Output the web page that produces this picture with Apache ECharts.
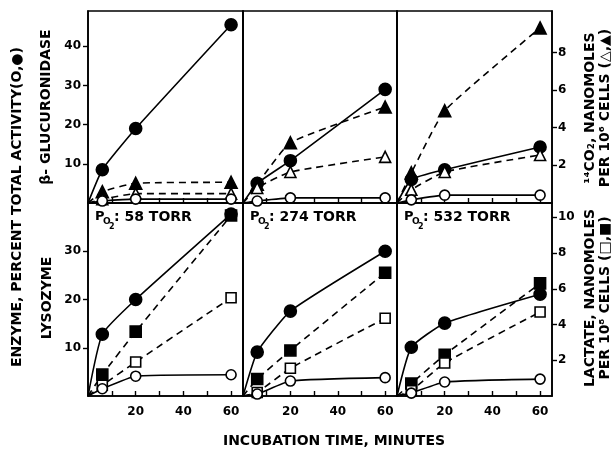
<!DOCTYPE html>
<html><head><meta charset="utf-8">
<script src="https://cdn.jsdelivr.net/npm/echarts@6/dist/echarts.min.js"></script>
<style>html,body{margin:0;padding:0;background:#fff}#c{width:615px;height:450px}</style>
</head><body><div id="c"></div>
<script>
// incubation times (minutes)
const times = [6, 20, 60];
const po2Labels = ['58', '274', '532'];
const xTicks = [10, 20, 30, 40, 50, 60];
const xLabels = [20, 40, 60];
const leftTicksTop = [10, 20, 30, 40];
const leftTicksBottom = [10, 20, 30];
const rightTicksTop = [2, 4, 6, 8];
const rightTicksBottom = [2, 4, 6, 8, 10];
// beta-glucuronidase, % total activity (open / filled circles), per panel
const glucOpen = [[0.5, 1.0, 1.0], [0.5, 1.3, 1.3], [0.8, 2.0, 2.0]];
const glucFilled = [[8.5, 19, 45.5], [5.0, 10.8, 29], [6.0, 8.5, 14.3]];
// 14CO2, nmol per 10^6 cells (open / filled triangles)
const co2Open = [[0.2, 0.5, 0.5], [0.8, 1.65, 2.45], [0.7, 1.65, 2.55]];
const co2Filled = [[0.6, 1.05, 1.1], [1.0, 3.2, 5.1], [1.6, 4.9, 9.3]];
// lysozyme, % total activity (open / filled circles)
const lysoOpen = [[1.5, 4.1, 4.4], [0.4, 3.1, 3.8], [0.6, 2.9, 3.5]];
const lysoFilled = [[12.8, 20, 37.7], [9.1, 17.6, 30], [10.1, 15.1, 21.1]];
// lactate, nmol per 10^8 cells (open / filled squares)
const lacOpen = [[0.6, 1.9, 5.5], [0.2, 1.55, 4.35], [0.3, 1.85, 4.7]];
const lacFilled = [[1.2, 3.6, 10.1], [0.95, 2.55, 6.9], [0.7, 2.3, 6.3]];

const FONT = '"DejaVu Sans", sans-serif';
const colLeft = [88, 243, 397];
const colWidth = [155, 154, 155];
const rowTop = [11, 203];
const rowHeight = [192, 193];
const leftMax = [49, 40];
const rightMax = [10.2, 10.8];

const grids = [], xAxes = [], yAxes = [], series = [];
function mkData(vals) {
  return [{ value: [0, 0], symbol: 'none' }].concat(times.map((t, k) => [t, vals[k]]));
}
function addSeries(gi, yi, vals, dashed, symbol, filled, size) {
  series.push({
    type: 'line', xAxisIndex: gi, yAxisIndex: yi, data: mkData(vals),
    smooth: 0.15,
    symbol: symbol, symbolSize: size, showAllSymbol: true,
    lineStyle: { color: '#000', width: 1.6, type: dashed ? [7, 5] : 'solid' },
    itemStyle: { color: filled ? '#000' : '#fff', borderColor: '#000', borderWidth: 1.6 },
    z: filled ? 3 : 4, animation: false
  });
}
for (let r = 0; r < 2; r++) {
  for (let c = 0; c < 3; c++) {
    const gi = r * 3 + c;
    grids.push({ left: colLeft[c], top: rowTop[r], width: colWidth[c], height: rowHeight[r],
      show: true, borderColor: '#000', borderWidth: 1.6, backgroundColor: 'transparent' });
    xAxes.push({ type: 'value', gridIndex: gi, min: 0, max: 65,
      axisLine: { show: true, lineStyle: { color: '#000', width: 1.6 } },
      axisTick: { show: true, inside: true, length: 5, customValues: xTicks, lineStyle: { color: '#000', width: 1.4 } },
      axisLabel: { show: r === 1, customValues: xLabels, margin: 10, color: '#000', fontFamily: FONT, fontWeight: 'bold', fontSize: 12 },
      splitLine: { show: false } });
    yAxes.push({ type: 'value', gridIndex: gi, min: 0, max: leftMax[r], position: 'left',
      axisLine: { show: true, lineStyle: { color: '#000', width: 1.6 } },
      axisTick: { show: c === 0, inside: false, length: 5, customValues: r === 0 ? leftTicksTop : leftTicksBottom, lineStyle: { color: '#000', width: 1.4 } },
      axisLabel: { show: c === 0, customValues: r === 0 ? leftTicksTop : leftTicksBottom, margin: 7, color: '#000', fontFamily: FONT, fontWeight: 'bold', fontSize: 12 },
      splitLine: { show: false } });
    yAxes.push({ type: 'value', gridIndex: gi, min: 0, max: rightMax[r], position: 'right',
      axisLine: { show: c === 2, lineStyle: { color: '#000', width: 1.6 } },
      axisTick: { show: c === 2, inside: false, length: 5, customValues: r === 0 ? rightTicksTop : rightTicksBottom, lineStyle: { color: '#000', width: 1.4 } },
      axisLabel: { show: c === 2, customValues: r === 0 ? rightTicksTop : rightTicksBottom, margin: 6, color: '#000', fontFamily: FONT, fontWeight: 'bold', fontSize: 12 },
      splitLine: { show: false } });
    const yl = gi * 2, yr = gi * 2 + 1;
    if (r === 0) {
      addSeries(gi, yr, co2Open[c], true, 'triangle', false, 11);
      addSeries(gi, yr, co2Filled[c], true, 'triangle', true, 12);
      addSeries(gi, yl, glucOpen[c], false, 'circle', false, 10);
      addSeries(gi, yl, glucFilled[c], false, 'circle', true, 12);
    } else {
      addSeries(gi, yr, lacOpen[c], true, 'rect', false, 10);
      addSeries(gi, yr, lacFilled[c], true, 'rect', true, 11);
      addSeries(gi, yl, lysoOpen[c], false, 'circle', false, 10);
      addSeries(gi, yl, lysoFilled[c], false, 'circle', true, 12);
    }
  }
}

function txt(text, x, y, size, rot, align) {
  return { type: 'text', x: x, y: y, rotation: rot || 0, silent: true, z: 100,
    style: { text: text, font: 'bold ' + size + 'px ' + FONT, fill: '#000',
      textAlign: align || 'center', textVerticalAlign: 'middle', align: align || 'center', verticalAlign: 'middle' } };
}
const R = Math.PI / 2;
const graphics = [
  txt('ENZYME, PERCENT TOTAL ACTIVITY(O,●)', 17, 207, 14, R),
  txt('β- GLUCURONIDASE', 46, 107, 14, R),
  txt('LYSOZYME', 47, 298, 14, R),
  txt('INCUBATION TIME, MINUTES', 334, 441, 14, 0),
  txt('¹⁴CO₂, NANOMOLES', 590, 108, 14, R),
  txt('PER 10⁶ CELLS (△,▲)', 605, 108, 14, R),
  txt('LACTATE, NANOMOLES', 590, 298, 14, R),
  txt('PER 10⁸ CELLS (□,■)', 605, 298, 14, R)
];
po2Labels.forEach((p, c) => {
  const x0 = colLeft[c] + 7;
  graphics.push(txt('P', x0, 217, 13, 0, 'left'));
  graphics.push(txt('O', x0 + 8, 222, 9, 0, 'left'));
  graphics.push(txt('2', x0 + 14, 227, 8, 0, 'left'));
  graphics.push(txt(': ' + p + ' TORR', x0 + 19, 217, 14, 0, 'left'));
});

const chart = echarts.init(document.getElementById('c'), null, { renderer: 'canvas' });
chart.setOption({
  animation: false, backgroundColor: '#fff',
  grid: grids, xAxis: xAxes, yAxis: yAxes, series: series, graphic: graphics
});
</script></body></html>
